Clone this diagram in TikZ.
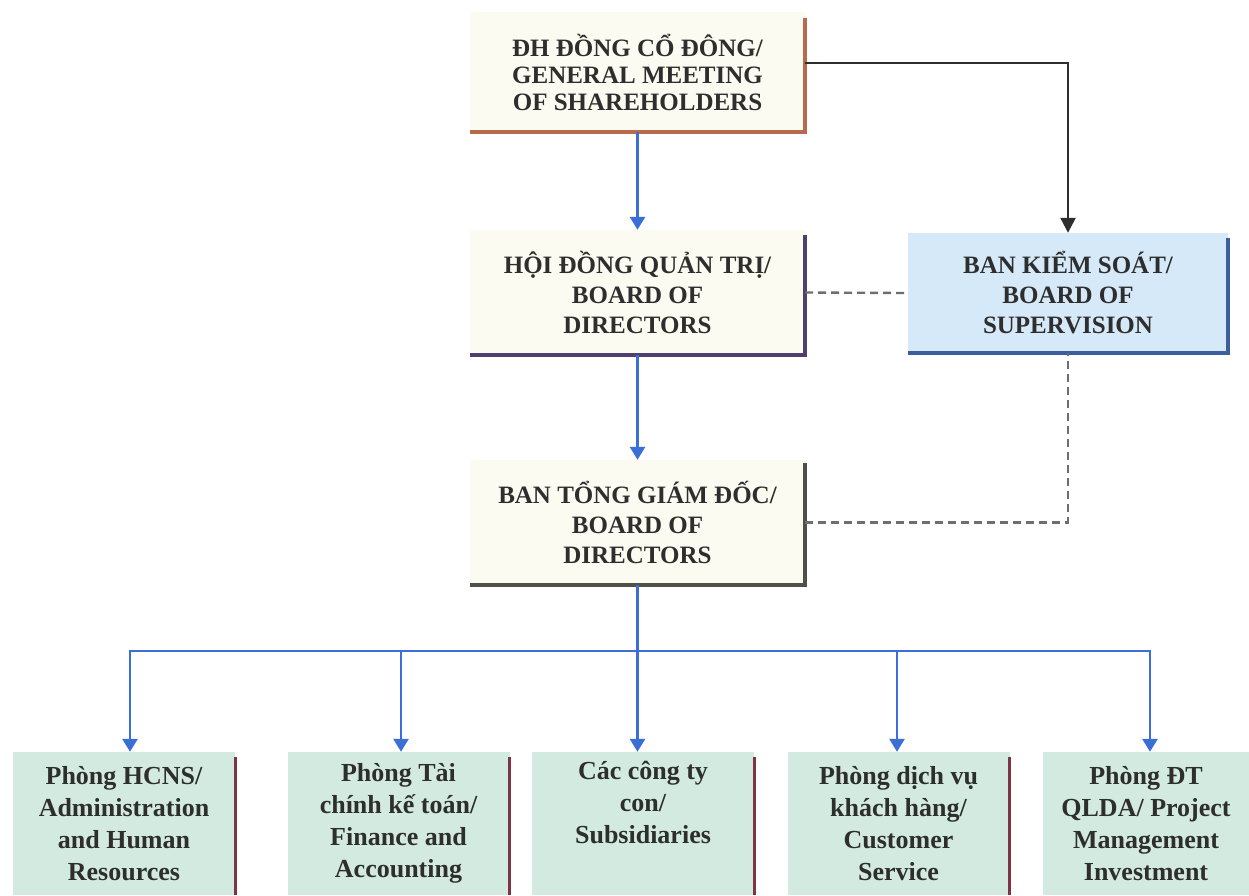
\documentclass[tikz,border=0pt]{standalone}
\usepackage{fontspec}
\setmainfont{Liberation Serif}
\usetikzlibrary{arrows.meta}
\definecolor{cream}{HTML}{FCFBF1}
\definecolor{topborder}{HTML}{B86A4E}
\definecolor{hdqtborder}{HTML}{4E3F6E}
\definecolor{bksfill}{HTML}{D6E9F8}
\definecolor{bksborder}{HTML}{3D5E9E}
\definecolor{btgdborder}{HTML}{4F5048}
\definecolor{mint}{HTML}{D2EADF}
\definecolor{mintborder}{HTML}{7D3545}
\definecolor{textcol}{HTML}{2E2E2E}
\definecolor{bluearrow}{HTML}{3B6FD6}
\definecolor{dashgray}{HTML}{6E6E6E}
\begin{document}
\begin{tikzpicture}[x=1pt,y=-1pt,
  box/.style={rectangle, inner sep=0pt, align=center, text=textcol,
    font=\bfseries\fontsize{25}{30}\selectfont},
  topbox/.style={box, fill=cream, minimum width=335pt, minimum height=120pt,
    font=\bfseries\fontsize{25}{27}\selectfont},
  midbox/.style={box, fill=cream, minimum width=335pt, minimum height=125pt},
  bksbox/.style={box, fill=bksfill, minimum width=320pt, minimum height=120pt},
  deptbox/.style={box, fill=mint, minimum width=222pt, minimum height=143pt,
    font=\bfseries\fontsize{26}{32}\selectfont},
  shadowline/.style={line width=3.5pt},
  bline/.style={draw=bluearrow, line width=2.8pt},
  barrow/.style={bline, -{Triangle[width=15pt,length=13pt]}},
  karrow/.style={draw=textcol, line width=2.4pt, -{Triangle[width=15pt,length=15pt]}},
  dline/.style={draw=dashgray, line width=2.4pt, dash pattern=on 8pt off 5pt}
]
\useasboundingbox (0,0) rectangle (1249,895);

% nodes
\node[topbox] (gms) at (637.5,72) {ĐH ĐỒNG CỔ ĐÔNG/\\GENERAL MEETING\\OF SHAREHOLDERS};
\node[midbox] (hdqt) at (637.5,292.5) {HỘI ĐỒNG QUẢN TRỊ/\\BOARD OF\\DIRECTORS};
\node[bksbox] (bks) at (1068,293) {BAN KIỂM SOÁT/\\BOARD OF\\SUPERVISION};
\node[midbox] (btgd) at (637.5,522.5) {BAN TỔNG GIÁM ĐỐC/\\BOARD OF\\DIRECTORS};

\node[deptbox] (da) at (124,823.5) {Phòng HCNS/\\Administration\\and Human\\Resources};
\node[deptbox] (db) at (398.5,823.5) {Phòng Tài\\chính kế toán/\\Finance and\\Accounting};
\node[deptbox] (dc) at (643,823.5) {Các công ty\\con/\\Subsidiaries\\\strut};
\node[deptbox] (dd) at (898.5,823.5) {Phòng dịch vụ\\khách hàng/\\Customer\\Service};
\node[deptbox, minimum width=206pt] (de) at (1146,823.5) {Phòng ĐT\\QLDA/ Project\\Management\\Investment};

% shadow borders
\draw[shadowline, draw=topborder] ([yshift=-6pt]gms.north east) -- (gms.south east) -- (gms.south west);
\draw[shadowline, draw=hdqtborder] ([yshift=-5pt]hdqt.north east) -- (hdqt.south east) -- (hdqt.south west);
\draw[shadowline, draw=bksborder] ([yshift=-5pt]bks.north east) -- (bks.south east) -- (bks.south west);
\draw[shadowline, draw=btgdborder] ([yshift=-3pt]btgd.north east) -- (btgd.south east) -- (btgd.south west);
\foreach \n in {da,db,dc,dd}{
  \draw[line width=3pt, draw=mintborder] ([yshift=-5pt]\n.north east) -- (\n.south east);
}

% connectors
\draw[barrow] (gms.south) -- (hdqt.north);
\draw[barrow] (hdqt.south) -- (btgd.north);
\coordinate (bus) at (637.5,651);
\draw[bline] (btgd.south) -- (bus);
\draw[barrow] (bus) -| ([xshift=6pt]da.north);
\draw[barrow] (bus) -| ([xshift=2.5pt]db.north);
\draw[barrow] (bus) -- (bus |- dc.north);
\draw[barrow] (bus) -| ([xshift=-1.5pt]dd.north);
\draw[barrow] (bus) -| ([xshift=4pt]de.north);

\draw[karrow] ([yshift=9pt]gms.east) -| (bks.north);
\draw[dline] (hdqt.east) -- (bks.west);
\draw[dline] (btgd.east) -| (bks.south);
\end{tikzpicture}
\end{document}
